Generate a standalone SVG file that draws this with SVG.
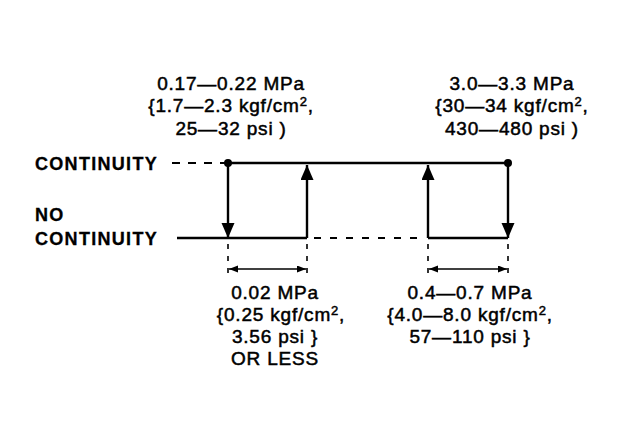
<svg xmlns="http://www.w3.org/2000/svg" width="640" height="422" viewBox="0 0 640 422">
<style>
.t{font-family:"Liberation Sans",Arial,sans-serif;font-size:19px;letter-spacing:0.8px;fill:#000;stroke:#000;stroke-width:0.5px;text-anchor:middle}
.lb{font-family:"Liberation Sans",Arial,sans-serif;font-size:18px;font-weight:bold;letter-spacing:1.3px;fill:#000;stroke:#000;stroke-width:0.3px}
.s{stroke:#000;stroke-width:2.4;fill:none}
.d{stroke:#000;stroke-width:2.2;fill:none;stroke-dasharray:8 8}
.dim{stroke:#000;stroke-width:1.6;fill:none}
.dv{stroke:#000;stroke-width:1.6;fill:none;stroke-dasharray:5 7}
.sup{font-size:13px}
</style>
<defs>
<marker id="big" markerUnits="userSpaceOnUse" markerWidth="16" markerHeight="14" refX="15" refY="6.5" orient="auto"><path d="M0,0 L15,6.5 L0,13 z" fill="#000"/></marker>
<marker id="sm" markerUnits="userSpaceOnUse" markerWidth="10" markerHeight="8" refX="9" refY="3.5" orient="auto-start-reverse"><path d="M0,0 L9,3.5 L0,7 z" fill="#000"/></marker>
</defs>
<rect width="640" height="422" fill="#fff"/>
<g id="label-continuity"><text class="lb" x="35" y="170">CONTINUITY</text></g>
<g id="label-no-continuity"><text class="lb" x="35" y="221">NO</text><text class="lb" x="35" y="245">CONTINUITY</text></g>
<g id="connectors">
<line class="d" x1="172" y1="163" x2="226" y2="163"/>
<line class="s" x1="228" y1="163" x2="508" y2="163"/>
<circle cx="228" cy="163" r="4" fill="#000"/>
<circle cx="508" cy="163" r="4" fill="#000"/>
<line class="s" x1="177" y1="238" x2="307" y2="238"/>
<line class="d" x1="314" y1="238" x2="421" y2="238" style="stroke-dasharray:7 9"/>
<line class="s" x1="428" y1="238" x2="508" y2="238"/>
<line class="s" x1="228" y1="163" x2="228" y2="238" marker-end="url(#big)"/>
<line class="s" x1="307" y1="238" x2="307" y2="165" marker-end="url(#big)"/>
<line class="s" x1="428" y1="238" x2="428" y2="165" marker-end="url(#big)"/>
<line class="s" x1="508" y1="163" x2="508" y2="238" marker-end="url(#big)"/>
<line class="dv" x1="228" y1="244" x2="228" y2="273"/>
<line class="dv" x1="307" y1="244" x2="307" y2="273"/>
<line class="dv" x1="428" y1="244" x2="428" y2="273"/>
<line class="dv" x1="508" y1="244" x2="508" y2="273"/>
<line class="dim" x1="229" y1="269" x2="306" y2="269" marker-start="url(#sm)" marker-end="url(#sm)"/>
<line class="dim" x1="429" y1="269" x2="507" y2="269" marker-start="url(#sm)" marker-end="url(#sm)"/>
</g>
<g id="note-on-pressure">
<text class="t" x="231" y="90">0.17—0.22 MPa</text>
<text class="t" x="231" y="112">{1.7—2.3 kgf/cm<tspan class="sup" dy="-6">2</tspan><tspan dy="6">,</tspan></text>
<text class="t" x="231" y="135">25—32 psi )</text>
</g>
<g id="note-off-pressure">
<text class="t" x="512" y="90">3.0—3.3 MPa</text>
<text class="t" x="512" y="112">{30—34 kgf/cm<tspan class="sup" dy="-6">2</tspan><tspan dy="6">,</tspan></text>
<text class="t" x="512" y="135">430—480 psi )</text>
</g>
<g id="note-hysteresis-low">
<text class="t" x="275" y="299">0.02 MPa</text>
<text class="t" x="281" y="321">{0.25 kgf/cm<tspan class="sup" dy="-6">2</tspan><tspan dy="6">,</tspan></text>
<text class="t" x="275" y="343">3.56 psi }</text>
<text class="t" x="275" y="365">OR LESS</text>
</g>
<g id="note-hysteresis-high">
<text class="t" x="470" y="299">0.4—0.7 MPa</text>
<text class="t" x="470" y="321">{4.0—8.0 kgf/cm<tspan class="sup" dy="-6">2</tspan><tspan dy="6">,</tspan></text>
<text class="t" x="470" y="343">57—110 psi }</text>
</g>
</svg>
